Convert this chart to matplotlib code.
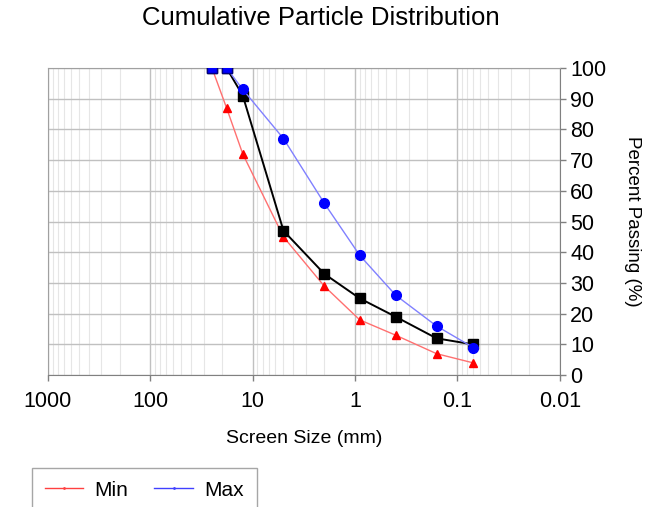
#!/usr/bin/env python3

import matplotlib
matplotlib.use("Agg")
import matplotlib.pyplot as plt
from matplotlib.lines import Line2D
from matplotlib.ticker import FixedLocator, FuncFormatter, LogLocator, NullFormatter

plt.rcParams["font.family"] = ["Liberation Sans", "DejaVu Sans"]

# screen sizes (mm) and percent passing
tamanho = [25, 18, 12.5, 5, 2.0, 0.9, 0.4, 0.16, 0.07]
p_min = [100, 87, 72, 45, 29, 18, 13, 7, 4]
p_max = [100, 100, 93, 77, 56, 39, 26, 16, 9]
p_amostra = [100, 100, 91, 47, 33, 25, 19, 12, 10]

x_ticks = [1000, 100, 10, 1, 0.1, 0.01]
y_ticks = list(range(0, 101, 10))

fig = plt.figure(figsize=(6.57, 5.07), dpi=100)
ax = fig.add_axes([0.073, 0.260, 0.779, 0.606])

ax.plot(tamanho, p_min, "^-", color="#ff7070", lw=1.0,
        mfc="red", mec="red", ms=6, zorder=3)
ax.plot(tamanho, p_amostra, "s-", color="black", lw=1.4,
        mfc="black", mec="black", ms=7, zorder=4)
ax.plot(tamanho, p_max, "o-", color="#8080ff", lw=1.0,
        mfc="blue", mec="blue", ms=7, zorder=5)
# the two top points show as blue squares
ax.plot(tamanho[:2], p_amostra[:2], "s", mfc="blue", mec="#000080",
        ms=7, zorder=6)

ax.set_xscale("log")
ax.set_xlim(1000, 0.01)
ax.set_ylim(0, 100)
ax.xaxis.set_major_locator(FixedLocator(x_ticks))
ax.xaxis.set_major_formatter(FuncFormatter(lambda v, p: f"{v:g}"))
ax.xaxis.set_minor_locator(LogLocator(base=10, subs=range(2, 10), numticks=20))
ax.xaxis.set_minor_formatter(NullFormatter())
ax.set_yticks(y_ticks)

ax.yaxis.tick_right()
ax.yaxis.set_label_position("right")
ax.tick_params(axis="both", which="major", labelsize=15.5, length=4.5,
               color="#808080", width=1)
ax.tick_params(axis="x", which="minor", length=0)
ax.tick_params(axis="x", pad=7)
ax.tick_params(axis="y", pad=3)

ax.grid(True, which="major", color="#c0c0c0", lw=1.0)
ax.grid(True, which="minor", axis="x", color="#e6e6e6", lw=0.8)
ax.set_axisbelow(True)
for s in ax.spines.values():
    s.set_color("#a0a0a0")
ax.spines["right"].set_color("#808080")
ax.spines["bottom"].set_color("#808080")

ax.set_xlabel("Screen Size (mm)", fontsize=14, labelpad=13)
ax.set_ylabel("Percent Passing (%)", fontsize=13.5, rotation=270, labelpad=25)
fig.text(0.488, 1 - 18 / 507, "Cumulative Particle Distribution",
         fontsize=18.5, ha="center", va="center")

handles = [
    Line2D([], [], color="#ff4040", lw=1, marker=".", ms=2),
    Line2D([], [], color="#4040ff", lw=1, marker=".", ms=2),
]
leg = fig.legend(handles, ["Min", "Max"], loc="upper left",
                 bbox_to_anchor=(32 / 657, 1 - 468 / 507), ncol=2,
                 fontsize=15, frameon=True, fancybox=False,
                 handlelength=1.85, handletextpad=0.55, columnspacing=1.25,
                 borderpad=0.6, borderaxespad=0)
leg.get_frame().set_edgecolor("#909090")
leg.get_frame().set_linewidth(1.0)

fig.savefig("out.png", dpi=100)
plt.close(fig)
